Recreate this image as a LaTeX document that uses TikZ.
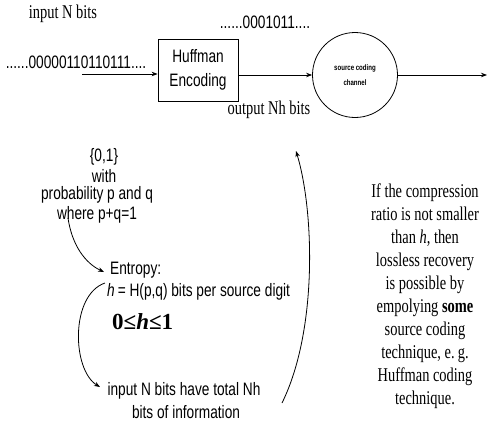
\documentclass[tikz,border=0pt]{standalone}
\usepackage{fontspec}
\usetikzlibrary{arrows.meta}
\newfontfamily\nsans[FakeStretch=0.76]{Liberation Sans}
\newfontfamily\nserif[FakeStretch=0.74]{Liberation Serif}
\tikzset{
  sanst/.style={inner sep=0pt, font=\nsans\fontsize{18}{20}\selectfont},
  serift/.style={inner sep=0pt, font=\nserif\fontsize{19.5}{23}\selectfont},
  arr/.style={-{Stealth[length=6pt,width=4.5pt]}, line width=0.8pt},
  carr/.style={-{Stealth[length=6pt,width=4.5pt]}, line width=0.8pt},
}
\begin{document}
\begin{tikzpicture}[x=1pt,y=-1pt]
\useasboundingbox (0,0) rectangle (488,440);
\node[serift] (inbits) at (63,14) {input N bits};
\node[sanst] (seq) at (76,62) {......00000110110111....};
\node[sanst, draw, line width=0.8pt, minimum width=80pt, minimum height=62pt, align=center, inner sep=2pt] (huff) at (198,70) {Huffman\\[4pt]Encoding};
\node[sanst] (outseq) at (265,22) {......0001011....};
\node[draw, circle, line width=0.8pt, minimum size=85pt, align=center, inner sep=0pt, font=\nsans\bfseries\fontsize{8}{15}\selectfont] (chan) at (355,75) {source coding\\channel};
\coordinate (instart) at (82,74);
\coordinate (outend) at (487,75);
\draw[arr] (instart) -- (instart -| huff.west);
\draw[arr] (huff.east |- chan.west) -- (chan.west);
\draw[arr] (chan.east) -- (outend);
\node[serift] (outnh) at (269,110) {output Nh bits};
\node[sanst] (set) at (104,157) {\{0,1\}};
\node[sanst] (with) at (104,176) {with};
\node[sanst] (prob) at (97,195) {probability p and q};
\node[sanst] (where) at (97,215) {where p+q=1};
\node[sanst, anchor=west] (entropy) at (110,270) {Entropy:};
\node[sanst, anchor=west] (hdef) at (107,292) {\textit{h}\,= H(p,q) bits per source digit};
\node[inner sep=0pt, anchor=west, font=\fontspec{Liberation Serif}\bfseries\fontsize{23}{26}\selectfont] (ineq) at (112,322) {0≤\textit{h}≤1};
\node[sanst] (infoa) at (184,391) {input N bits have total Nh};
\node[sanst] (infob) at (186,412) {bits of information};
\node[serift, align=center] (note) at (425,296) {If the compression\\ratio is not smaller\\than \textit{h}, then\\lossless recovery\\is possible by\\empolying \textbf{some}\\source coding\\technique, e.\,g.\\Huffman coding\\technique.};
\coordinate (a1s) at (68,218);
\coordinate (a1e) at (104,272);
\draw[carr] (a1s) .. controls (72,245) and (85,263) .. (a1e);
\coordinate (a2s) at (105,283);
\coordinate (a2e) at (100,387);
\draw[carr] (a2s) .. controls (70,295) and (72,370) .. (a2e);
\coordinate (a3s) at (282,403);
\coordinate (a3e) at (296,151);
\draw[carr] (a3s) .. controls (318,330) and (314,210) .. (a3e);
\end{tikzpicture}
\end{document}
